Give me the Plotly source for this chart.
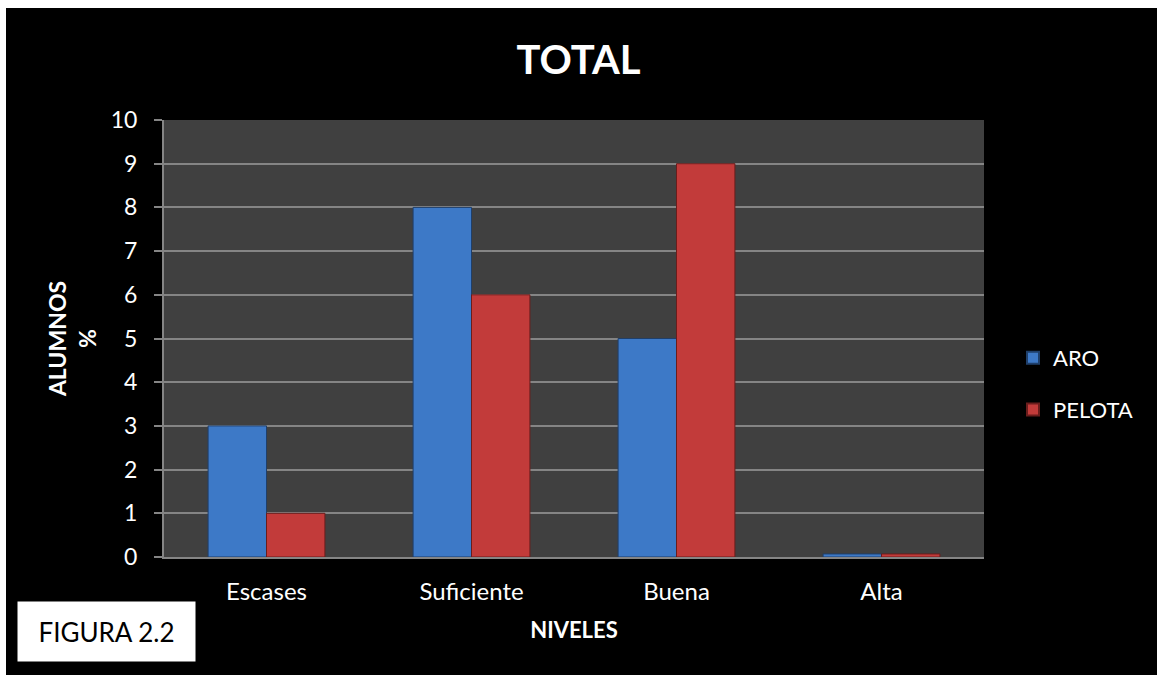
import plotly.graph_objects as go

# Niveles evaluados y porcentaje de alumnos por prueba
niveles = ["Escases", "Suficiente", "Buena", "Alta"]
aro = [3, 8, 5, 0.07]
pelota = [1, 6, 9, 0.07]
y_ticks = list(range(0, 11))

FONT = "Lato"
W, H = 1157, 675
L, R, T, B = 164, 173, 120, 118
PW, PH = W - L - R, H - T - B


def px_x(px):
    return (px - L) / PW


def px_y(py):
    return (H - B - py) / PH


fig = go.Figure()
fig.add_trace(go.Bar(
    name="ARO", x=niveles, y=aro, legendgroup="aro",
    marker=dict(color="#3D79C7", line=dict(color="#1F3F6A", width=1)),
))
fig.add_trace(go.Bar(
    name="PELOTA", x=niveles, y=pelota, legendgroup="pelota",
    marker=dict(color="#C23B3A", line=dict(color="#6A1D1C", width=1)),
))

axis_grey = "#858585"
fig.update_layout(
    width=W, height=H,
    margin=dict(l=L, r=R, t=T, b=B, autoexpand=False),
    paper_bgcolor="#000000",
    plot_bgcolor="#404040",
    barmode="group", bargap=0.43, bargroupgap=0,
    font=dict(family=FONT, color="#FFFFFF", size=20),
    title=dict(text="<b>TOTAL</b>", x=0.5, xanchor="center", y=1 - 60 / H,
               yanchor="middle", font=dict(size=40, family=FONT, color="#FFFFFF")),
    showlegend=True,
    legend=dict(x=px_x(1013), xanchor="left", y=px_y(384), yanchor="middle",
                font=dict(size=22, family=FONT, color="#FFFFFF"),
                bgcolor="rgba(0,0,0,0)", itemsizing="constant",
                traceorder="grouped", tracegroupgap=20),
    xaxis=dict(
        range=[-0.5, 3.5], showgrid=False, showline=True, linecolor=axis_grey,
        linewidth=2, ticks="", tickfont=dict(size=24, family=FONT, color="#FFFFFF"),
        ticklabelstandoff=12,
        title=dict(text="<b>NIVELES</b>", font=dict(size=22, family=FONT, color="#FFFFFF"),
                   standoff=19),
        zeroline=False,
    ),
    yaxis=dict(
        range=[0, 10], tickvals=y_ticks, showgrid=True, gridcolor=axis_grey,
        gridwidth=2, showline=True, linecolor=axis_grey, linewidth=2,
        ticks="outside", ticklen=8, tickwidth=2, tickcolor=axis_grey,
        tickfont=dict(size=23, family=FONT, color="#FFFFFF"),
        ticklabelstandoff=12,
        title=dict(text="<b>ALUMNOS<br>%</b>", font=dict(size=23, family=FONT, color="#FFFFFF"),
                   standoff=8),
        zeroline=False,
    ),
    shapes=[
        # white page edge along the top and left of the black panel
        dict(type="rect", xref="paper", yref="paper", x0=px_x(0), x1=px_x(W),
             y0=px_y(8), y1=px_y(0), fillcolor="#FFFFFF", line=dict(width=0), layer="above"),
        dict(type="rect", xref="paper", yref="paper", x0=px_x(0), x1=px_x(6),
             y0=px_y(H), y1=px_y(0), fillcolor="#FFFFFF", line=dict(width=0), layer="above"),
    ],
    annotations=[
        dict(text="FIGURA 2.2", xref="paper", yref="paper",
             x=px_x(106), y=px_y(631), xanchor="center", yanchor="middle",
             showarrow=False, bgcolor="#FFFFFF", width=175, height=57,
             font=dict(size=26, family=FONT, color="#000000")),
    ],
)

fig.write_html("out.html")
